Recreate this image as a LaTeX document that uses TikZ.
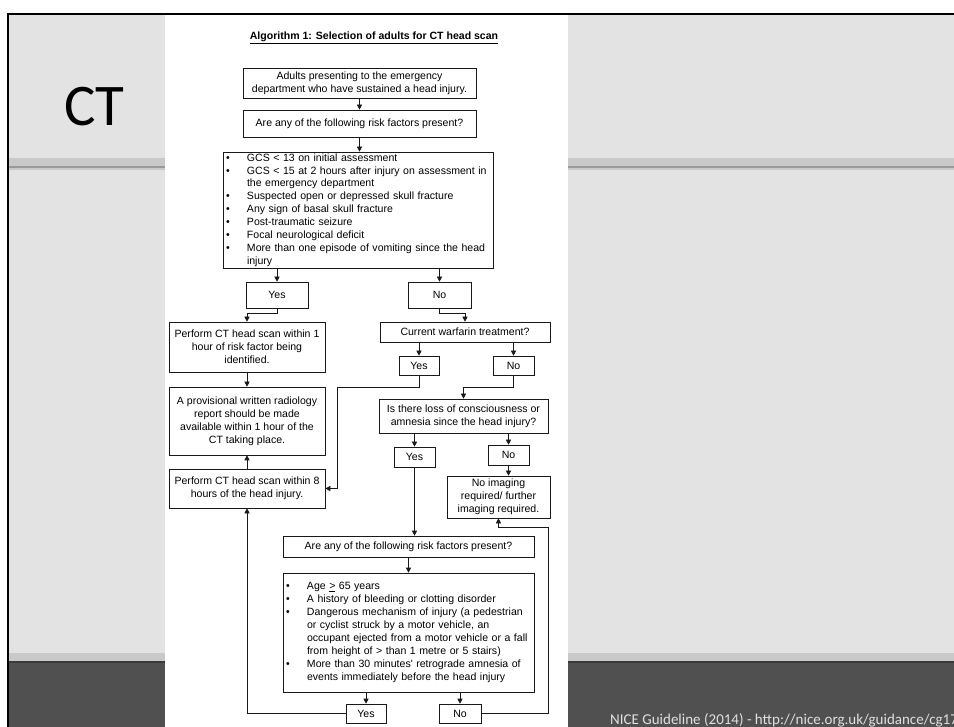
\documentclass[tikz,border=0pt]{standalone}
\usepackage{fontspec}
\setmainfont{Liberation Sans}
\newfontfamily\slidefont{Carlito}
\usetikzlibrary{arrows.meta}
\definecolor{slidegray}{RGB}{227,227,227}
\definecolor{bandgray}{RGB}{201,201,201}
\definecolor{bandline}{RGB}{154,154,154}
\definecolor{footgray}{RGB}{80,80,80}
\definecolor{footline}{RGB}{58,58,58}
\newcommand{\docfont}{\fontsize{10.55}{12.9}\selectfont}
\newcommand{\bul}{\makebox[21pt][l]{\textbullet}}
\newcommand{\cnt}{\hspace*{21pt}}

\begin{document}
\begin{tikzpicture}[x=1pt,y=-1pt,
 box/.style={draw=black!90,line width=0.6pt,align=center,inner sep=1pt,font=\docfont},
 listbox/.style={box,align=left,inner xsep=3pt,inner ysep=0pt},
 flow/.style={draw=black!90,line width=0.6pt,-{Triangle[length=5pt,width=5pt]}}]
% slide
\useasboundingbox (0,0) rectangle (954,727);
\fill[white] (0,0) rectangle (954,727);
\fill[slidegray] (8,15) rectangle (954,727);
\fill[bandgray] (8,158) rectangle (954,166);
\fill[bandline] (8,166) rectangle (954,168);
\fill[bandgray] (8,168) rectangle (954,170);
\fill[bandgray] (8,653) rectangle (954,661);
\fill[footgray] (8,661) rectangle (954,727);
\fill[footline] (8,661) rectangle (954,663);
\fill[black] (7,13) rectangle (954,15);
\fill[black] (7,13) rectangle (8.5,727);
\fill[white] (165,15) rectangle (568,727);
\node[font=\slidefont\fontsize{59}{61}\selectfont,anchor=base west,inner sep=0pt] (slidetitle) at (64,126) {CT};
\node[font=\slidefont\fontsize{15}{17}\selectfont,text=black!12,anchor=base west,inner sep=0pt] (source) at (610,724) {NICE Guideline (2014) - http://nice.org.uk/guidance/cg176};
% algorithm
\node[font=\bfseries\docfont] (heading) at (374,38) {\underline{Algorithm 1: Selection of adults for CT head scan}};
\node[box,minimum width=233pt,minimum height=30pt] (adults) at (359.5,83) {Adults presenting to the emergency\\department who have sustained a head injury.};
\node[box,minimum width=233pt,minimum height=27pt] (risk) at (359.5,123.5) {Are any of the following risk factors present?};
\node[listbox,text width=264pt,minimum height=116pt] (highrisk) at (358,210) {\bul GCS < 13 on initial assessment\\
 \bul GCS < 15 at 2 hours after injury on assessment in\\
 \cnt the emergency department\\
 \bul Suspected open or depressed skull fracture\\
 \bul Any sign of basal skull fracture\\
 \bul Post-traumatic seizure\\
 \bul Focal neurological deficit\\
 \bul More than one episode of vomiting since the head\\
 \cnt injury};
\node[box,minimum width=62pt,minimum height=26pt] (yesA) at (277,295) {Yes};
\node[box,minimum width=63pt,minimum height=26pt] (noA) at (439.5,295) {No};
\node[box,minimum width=156pt,minimum height=50pt] (scanone) at (247,347) {Perform CT head scan within 1\\hour of risk factor being\\identified.};
\node[box,minimum width=170pt,minimum height=20pt] (warfarin) at (465,332) {Current warfarin treatment?};
\node[box,minimum width=40pt,minimum height=19pt] (yesB) at (419,365.5) {Yes};
\node[box,minimum width=41pt,minimum height=19pt] (noB) at (513.5,365.5) {No};
\node[box,minimum width=156pt,minimum height=68pt] (report) at (247,421) {A provisional written radiology\\report should be made\\available within 1 hour of the\\CT taking place.};
\node[box,minimum width=169pt,minimum height=34pt] (conscious) at (463.5,416) {Is there loss of consciousness or\\amnesia since the head injury?};
\node[box,minimum width=41pt,minimum height=20pt] (yesC) at (414.5,457) {Yes};
\node[box,minimum width=41pt,minimum height=20pt] (noC) at (508.5,455) {No};
\node[box,minimum width=103pt,minimum height=42pt] (noimaging) at (498.5,497) {No imaging\\required/ further\\imaging required.};
\node[box,minimum width=156pt,minimum height=39pt] (scaneight) at (247,488.5) {Perform CT head scan within 8\\hours of the head injury.};
\node[box,minimum width=251pt,minimum height=21pt] (riskB) at (408.5,546.5) {Are any of the following risk factors present?};
\node[listbox,text width=245pt,minimum height=119pt] (lowrisk) at (408.5,632.5) {\bul Age \underline{>} 65 years\\
 \bul A history of bleeding or clotting disorder\\
 \bul Dangerous mechanism of injury (a pedestrian\\
 \cnt or cyclist struck by a motor vehicle, an\\
 \cnt occupant ejected from a motor vehicle or a fall\\
 \cnt from height of > than 1 metre or 5 stairs)\\
 \bul More than 30 minutes\textquotesingle{} retrograde amnesia of\\
 \cnt events immediately before the head injury};
\node[box,minimum width=40pt,minimum height=19pt] (yesD) at (366,713.5) {Yes};
\node[box,minimum width=42pt,minimum height=19pt] (noD) at (460,713.5) {No};
\coordinate (bendA) at (337,387);
\coordinate (bendB) at (548,527);
% connectors
\draw[flow] (adults) -- (risk);
\draw[flow] (risk.south) -- (risk.south |- highrisk.north);
\draw[flow] (yesA.north |- highrisk.south) -- (yesA);
\draw[flow] (noA.north |- highrisk.south) -- (noA);
\draw[flow] (yesA.south) -- ++(0,5) -| (scanone.north);
\draw[flow] (noA.south) -- ++(0,5) -| (warfarin.north);
\draw[flow] (yesB.north |- warfarin.south) -- (yesB);
\draw[flow] (noB.north |- warfarin.south) -- (noB);
\draw[flow] (yesB.south) |- (bendA) |- (scaneight.east);
\draw[flow] (noB.south) -- ++(0,12) -| (conscious.north);
\draw[flow] (scanone) -- (report);
\draw[flow] (scaneight) -- (report);
\draw[flow] (yesC.north |- conscious.south) -- (yesC);
\draw[flow] (noC.north |- conscious.south) -- (noC);
\draw[flow] (noC.south) -- (noC.south |- noimaging.north);
\draw[flow] (yesC.south) -- (yesC.south |- riskB.north);
\draw[flow] (riskB) -- (lowrisk);
\draw[flow] (yesD.north |- lowrisk.south) -- (yesD);
\draw[flow] (noD.north |- lowrisk.south) -- (noD);
\draw[flow] (yesD.west) -| (scaneight.south);
\draw[flow] (noD.east) -| (bendB) -| (noimaging.south);
\end{tikzpicture}
\end{document}
